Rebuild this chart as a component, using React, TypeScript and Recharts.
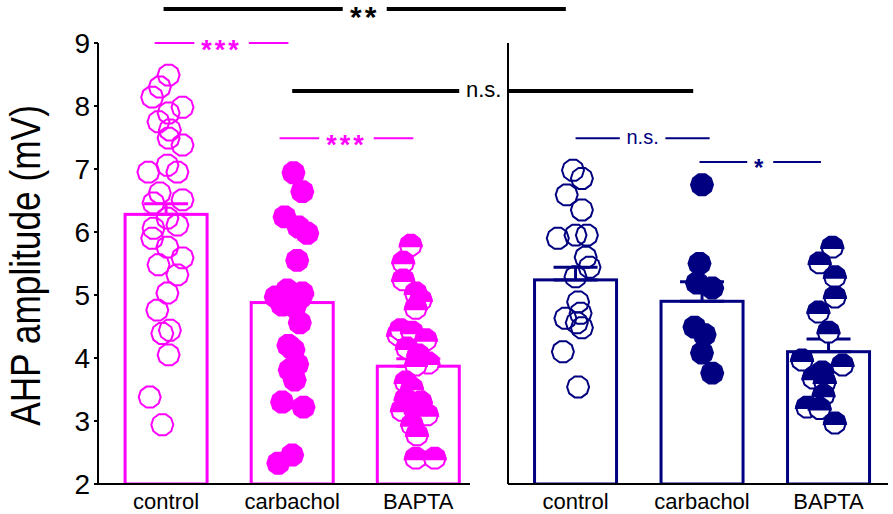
import { Bar, ComposedChart, ErrorBar, ReferenceLine, Scatter, XAxis, YAxis } from "recharts";

const MAGENTA = "#ff00ff";
const NAVY = "#000080";
const FONT = "'Liberation Sans', Arial, sans-serif";

const categories = ["control", "carbachol", "BAPTA"];
const yTicks = [2, 3, 4, 5, 6, 7, 8, 9];

// bar means and SEM (upward only)
const leftMeans = [6.28, 4.88, 3.87];
const leftSem = [0.17, 0.12, 0.12];
const rightMeans = [5.24, 4.9, 4.1];
const rightSem = [0.2, 0.31, 0.2];

// individual cells: [jitter around category, value]
const leftControl: [number, number][] = [
  [0.02, 8.49], [-0.05, 8.3], [-0.11, 8.14], [0.13, 7.98], [0.02, 7.89], [-0.06, 7.75],
  [0.03, 7.62], [0.02, 7.49], [0.13, 7.38], [-0.14, 6.95], [0.01, 7.06], [0.09, 6.95],
  [-0.05, 6.62], [0.13, 6.51], [-0.1, 6.46], [0.01, 6.22], [-0.1, 6.06], [0.09, 6.11],
  [-0.11, 5.9], [0.01, 5.76], [0.13, 5.59], [-0.06, 5.48], [0.09, 5.32], [0.01, 5.03],
  [-0.07, 4.76], [0.03, 4.44], [-0.03, 4.39], [0.02, 4.05], [-0.13, 3.38], [-0.03, 2.94],
];
const leftCarbachol: [number, number][] = [
  [0.01, 6.94], [0.08, 6.64], [-0.06, 6.24], [0.05, 6.08], [0.12, 5.98], [0.04, 5.55],
  [-0.13, 4.97], [-0.04, 5.08], [0.08, 5.03], [-0.08, 4.84], [0.02, 4.81], [0.06, 4.95],
  [-0.07, 5.0], [0.06, 4.56], [0.01, 4.13], [-0.03, 4.2], [0.04, 3.9], [-0.02, 3.81],
  [0.02, 3.65], [-0.08, 3.3], [0.09, 3.22], [-0.11, 2.33], [0.0, 2.46],
];
const leftBapta: [number, number][] = [
  [-0.06, 5.79], [-0.12, 5.52], [-0.12, 5.24], [-0.02, 5.03], [0.02, 4.92], [-0.02, 4.79],
  [-0.16, 4.37], [-0.14, 4.45], [-0.05, 4.41], [0.06, 4.29], [-0.09, 4.16], [0.0, 4.05],
  [0.08, 3.92], [-0.02, 3.89], [-0.1, 3.62], [-0.05, 3.52], [-0.1, 3.35], [0.02, 3.3],
  [-0.13, 3.17], [-0.02, 3.14], [0.07, 3.1], [-0.05, 2.94], [-0.01, 2.78], [-0.02, 2.41],
  [0.13, 2.41],
];
const rightControl: [number, number][] = [
  [-0.02, 6.98], [0.05, 6.85], [-0.07, 6.59], [0.05, 6.35], [-0.14, 5.9], [0.0, 5.95],
  [0.09, 5.95], [0.08, 5.6], [0.11, 5.44], [0.0, 5.29], [0.02, 4.89], [-0.08, 4.63],
  [0.04, 4.71], [0.01, 4.56], [0.05, 4.48], [-0.1, 4.1], [0.02, 3.54],
];
const rightCarbachol: [number, number][] = [
  [0.0, 6.75], [-0.02, 5.5], [-0.04, 5.19], [0.08, 5.11], [-0.06, 4.49], [0.02, 4.37],
  [0.0, 4.08], [0.08, 3.76],
];
const rightBapta: [number, number][] = [
  [0.03, 5.76], [-0.07, 5.51], [0.05, 5.29], [0.05, 4.97], [-0.08, 4.73], [0.0, 4.41],
  [-0.21, 3.97], [0.11, 3.89], [-0.05, 3.78], [-0.12, 3.68], [-0.03, 3.62], [-0.04, 3.41],
  [-0.17, 3.22], [-0.07, 3.2], [0.05, 2.97],
];

// significance brackets (x in category units of the panel that draws them)
type Sig = { x1: number; x2: number; y: number; text: string; dx?: number };
const crossSig: Sig[] = [
  { x1: 0.98, x2: 4.17, y: 9.54, text: "**" },
  { x1: 2.0, x2: 5.18, y: 8.24, text: "n.s.", dx: -9 },
];
const leftSig: Sig[] = [
  { x1: 0.91, x2: 1.97, y: 9.0, text: "***" },
  { x1: 1.9, x2: 2.96, y: 7.49, text: "***" },
];
const rightSig: Sig[] = [
  { x1: 1.0, x2: 2.06, y: 7.49, text: "n.s." },
  { x1: 1.98, x2: 2.94, y: 7.11, text: "*" },
];

const toBars = (means: number[], sem: number[]) =>
  means.map((m, i) => ({ x: i + 1, y: m, e: [0, sem[i]] }));
const toPoints = (cat: number, pts: [number, number][]) =>
  pts.map(([j, v]) => ({ x: cat + j, y: v }));

function polygon(cx: number, cy: number, r: number, from: number, to: number, n = 10) {
  const pts: string[] = [];
  for (let k = from; k <= to; k++) {
    const a = (Math.PI * 2 * k) / n;
    pts.push(`${(cx + r * Math.cos(a)).toFixed(1)},${(cy + r * Math.sin(a)).toFixed(1)}`);
  }
  return pts.join(" ");
}

function Marker({ cx, cy, kind, color }: { cx?: number; cy?: number; kind: string; color: string }) {
  if (cx == null || cy == null) return null;
  const r = 11;
  if (kind === "open")
    return <polygon points={polygon(cx, cy, r, 0, 9)} fill="none" stroke={color} strokeWidth={2} />;
  if (kind === "filled")
    return <polygon points={polygon(cx, cy, r, 0, 9)} fill={color} stroke={color} strokeWidth={2} />;
  return (
    <g>
      <polygon points={polygon(cx, cy, r, 0, 9)} fill="#fff" stroke={color} strokeWidth={2} />
      <polygon points={polygon(cx, cy + 1, r, 5, 10)} fill={color} stroke={color} strokeWidth={2} />
    </g>
  );
}

function SigLabel({ viewBox, text, color, size, dx = 0 }: any) {
  if (!viewBox) return null;
  const cx = viewBox.x + viewBox.width / 2 + dx;
  const isStar = text.includes("*");
  const w = isStar ? text.length * size * 0.5 + 14 : text.length * size * 0.42 + 12;
  return (
    <g>
      <rect x={cx - w / 2} y={viewBox.y - 6} width={w} height={12} fill="#fff" />
      <text
        x={cx}
        y={viewBox.y + (isStar ? size * 0.6 : size * 0.3)}
        textAnchor="middle"
        fontSize={size}
        fontWeight={isStar ? 700 : 400}
        letterSpacing={isStar ? 3 : 0}
        fill={color}
        fontFamily={FONT}
      >
        {text}
      </text>
    </g>
  );
}

function sigLines(list: Sig[], color: string, width: number, sizes: Record<string, number>, prefix: string) {
  return list.map((s, i) => (
    <ReferenceLine
      key={`${prefix}-${i}`}
      segment={[{ x: s.x1, y: s.y }, { x: s.x2, y: s.y }]}
      stroke={color}
      strokeWidth={width}
      ifOverflow="visible"
      label={<SigLabel text={s.text} color={color} size={sizes[s.text]} dx={s.dx} />}
    />
  ));
}

function YLabel({ viewBox }: any) {
  if (!viewBox) return null;
  const x = viewBox.x + 2;
  const y = viewBox.y + viewBox.height / 2 + 2;
  return (
    <text
      transform={`translate(${x},${y}) rotate(-90) scale(0.84,1)`}
      textAnchor="middle"
      fontSize={42}
      fill="#000"
      fontFamily={FONT}
    >
      AHP amplitude (mV)
    </text>
  );
}

function Panel({ bars, groups, color, domain, margin, yWidth, showLabels, children }: any) {
  return (
    <ComposedChart width={893} height={514} data={bars} margin={margin} style={{ position: "absolute", left: 0, top: 0 }}>
      <XAxis
        dataKey="x"
        type="number"
        domain={domain}
        ticks={[1, 2, 3]}
        interval={0}
        tickFormatter={(v) => categories[v - 1]}
        tickLine={false}
        tickSize={0}
        tickMargin={9}
        height={30}
        axisLine={{ stroke: "#000", strokeWidth: 2 }}
        tick={{ fill: "#000", fontSize: 22, fontFamily: FONT }}
        allowDataOverflow
      />
      <YAxis
        type="number"
        domain={[2, 9]}
        ticks={yTicks}
        interval={0}
        width={yWidth}
        axisLine={{ stroke: "#000", strokeWidth: 2 }}
        tickLine={{ stroke: "#000", strokeWidth: 2 }}
        tickSize={4}
        tickMargin={4}
        tick={showLabels ? { fill: "#000", fontSize: 28, fontFamily: FONT } : false}
        label={showLabels ? <YLabel /> : undefined}
        allowDataOverflow
      />
      <Bar
        dataKey="y"
        isAnimationActive={false}
        shape={(p: any) => {
          const c = p.x + p.width / 2;
          return <rect x={c - 41} y={p.y} width={82} height={p.height} fill="none" stroke={color} strokeWidth={3} />;
        }}
      >
        <ErrorBar dataKey="e" direction="y" width={22} stroke={color} strokeWidth={3} />
      </Bar>
      {groups.map((g: any, i: number) => (
        <Scatter
          key={i}
          data={g.data}
          dataKey="y"
          isAnimationActive={false}
          shape={(p: any) => <Marker cx={p.cx} cy={p.cy} kind={g.kind} color={color} />}
        />
      ))}
      {children}
    </ComposedChart>
  );
}

export default function App() {
  const leftGroups = [
    { kind: "open", data: toPoints(1, leftControl) },
    { kind: "filled", data: toPoints(2, leftCarbachol) },
    { kind: "half", data: toPoints(3, leftBapta) },
  ];
  const rightGroups = [
    { kind: "open", data: toPoints(1, rightControl) },
    { kind: "filled", data: toPoints(2, rightCarbachol) },
    { kind: "half", data: toPoints(3, rightBapta) },
  ];
  return (
    <div style={{ position: "relative", width: 893, height: 514, background: "#fff", fontFamily: FONT }}>
      <style>{`body{margin:0}`}</style>
      <Panel
        bars={toBars(leftMeans, leftSem)}
        groups={leftGroups}
        color={MAGENTA}
        domain={[0.46, 3.41]}
        margin={{ top: 43, right: 423, bottom: 0, left: 38 }}
        yWidth={60}
        showLabels
      >
        {sigLines(crossSig, "#000", 4, { "**": 30, "n.s.": 22 }, "c")}
        {sigLines(leftSig, MAGENTA, 2, { "***": 27 }, "l")}
      </Panel>
      <Panel
        bars={toBars(rightMeans, rightSem)}
        groups={rightGroups}
        color={NAVY}
        domain={[0.466, 3.47]}
        margin={{ top: 43, right: 5, bottom: 0, left: 498 }}
        yWidth={10}
        showLabels={false}
      >
        {sigLines(rightSig, NAVY, 2, { "n.s.": 20, "*": 24 }, "r")}
      </Panel>
    </div>
  );
}
